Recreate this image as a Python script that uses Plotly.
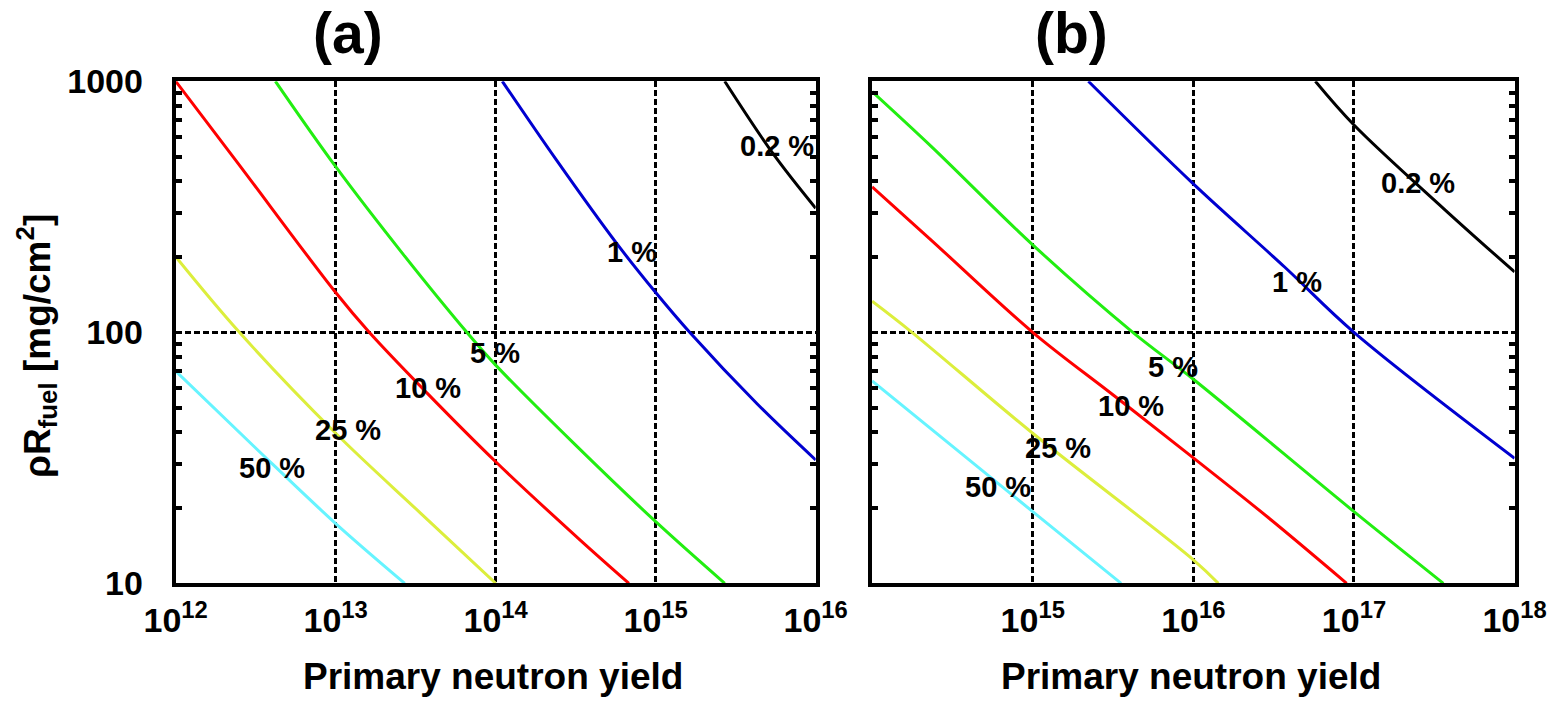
import numpy as np
import plotly.graph_objects as go

# ---------------- data ----------------
# Panel (a): primary neutron yield vs rhoR_fuel [mg/cm^2]
a_black_x = [2.7e15, 5.4e15, 1.0e16]
a_black_y = [1000, 516, 312]
a_blue_x = [1.1e14, 2.4e14, 5.7e14, 1.0e15, 1.63e15, 4.3e15, 1.0e16]
a_blue_y = [1000, 485, 226, 144, 100, 51.9, 31]
a_green_x = [4.2e12, 1.0e13, 2.65e13, 6.6e13, 1.0e14, 3.16e14, 1.0e15, 2.7e15]
a_green_y = [1000, 457, 204, 100, 74, 35.5, 17.6, 10]
a_red_x = [1.0e12, 2.4e12, 1.0e13, 1.62e13, 3.7e13, 1.0e14, 3.4e14, 6.8e14]
a_red_y = [1000, 480, 144, 100, 57.5, 30.5, 14.8, 10]
a_yellow_x = [1.0e12, 2.5e12, 1.0e13, 3.4e13, 1.0e14]
a_yellow_y = [200, 100, 39.6, 19, 10]
a_cyan_x = [1.0e12, 3.1e12, 1.0e13, 2.7e13]
a_cyan_y = [70, 35, 17.3, 10]

# Panel (b)
b_black_x = [5.75e16, 1.0e17, 3.7e17, 1.0e18]
b_black_y = [1000, 670, 307, 174]
b_blue_x = [2.22e15, 1.0e16, 3.7e16, 1.0e17, 1.0e18]
b_blue_y = [1000, 390, 182, 100, 31.5]
b_green_x = [1.0e14, 2.35e14, 1.0e15, 4.2e15, 1.0e16, 1.0e17, 3.6e17]
b_green_y = [910, 548, 223, 100, 65, 19.3, 10]
b_red_x = [1.0e14, 2.35e14, 1.0e15, 3.2e15, 1.0e16, 2.95e16, 9.0e16]
b_red_y = [380, 232, 100, 56, 31.6, 18.2, 10]
b_yellow_x = [1.0e14, 1.77e14, 1.0e15, 1.0e16, 1.43e16]
b_yellow_y = [133, 100, 39.6, 12.4, 10]
b_cyan_x = [1.0e14, 1.0e15, 3.55e15]
b_cyan_y = [64, 19.3, 10]

curve_labels = ["0.2 %", "1 %", "5 %", "10 %", "25 %", "50 %"]
a_label_x = [5.7e15, 7.1e14, 9.9e13, 3.8e13, 1.2e13, 4.0e12]
a_label_y = [550, 209, 83, 60, 40.8, 28.7]
b_label_x = [2.5e17, 4.4e16, 7.5e15, 4.1e15, 1.44e15, 6.1e14]
b_label_y = [393, 159, 73, 51, 34.5, 24.3]

a_xticks = [1e12, 1e13, 1e14, 1e15, 1e16]
a_xticktext = ["10<sup>12</sup>", "10<sup>13</sup>", "10<sup>14</sup>", "10<sup>15</sup>", "10<sup>16</sup>"]
b_xticks = [1e14, 1e15, 1e16, 1e17, 1e18]
b_xticktext = ["", "10<sup>15</sup>", "10<sup>16</sup>", "10<sup>17</sup>", "10<sup>18</sup>"]
yticks = [10, 100, 1000]
yticktext = ["10", "100", "1000"]
yminor = [20, 30, 40, 50, 60, 70, 80, 90, 200, 300, 400, 500, 600, 700, 800, 900]

colors = {"black": "#000000", "blue": "#0000d0", "green": "#22ee11",
          "red": "#ff0000", "yellow": "#dcee3c", "cyan": "#66f4ff"}

FONT = "Liberation Sans, Arial, sans-serif"

W, H = 1564, 701

def px_x(p):
    return p / W

def px_y(p):
    return 1 - p / H

fig = go.Figure()

def add_curve(x, y, col, xa, ya):
    fig.add_trace(go.Scatter(x=x, y=y, mode="lines", xaxis=xa, yaxis=ya,
                             line=dict(color=colors[col], width=3, shape="spline", smoothing=1.0),
                             showlegend=False, hoverinfo="skip"))

for col, (xx, yy) in {"black": (a_black_x, a_black_y), "blue": (a_blue_x, a_blue_y),
                      "green": (a_green_x, a_green_y), "red": (a_red_x, a_red_y),
                      "yellow": (a_yellow_x, a_yellow_y), "cyan": (a_cyan_x, a_cyan_y)}.items():
    add_curve(xx, yy, col, "x", "y")
for col, (xx, yy) in {"black": (b_black_x, b_black_y), "blue": (b_blue_x, b_blue_y),
                      "green": (b_green_x, b_green_y), "red": (b_red_x, b_red_y),
                      "yellow": (b_yellow_x, b_yellow_y), "cyan": (b_cyan_x, b_cyan_y)}.items():
    add_curve(xx, yy, col, "x2", "y2")

annotations = []
lab_font = dict(family=FONT, size=29, color="black", weight="bold")
for t, lx, ly in zip(curve_labels, a_label_x, a_label_y):
    annotations.append(dict(x=np.log10(lx), y=np.log10(ly), xref="x", yref="y", text=t,
                            xanchor="center", yanchor="middle", showarrow=False, font=lab_font))
for t, lx, ly in zip(curve_labels, b_label_x, b_label_y):
    annotations.append(dict(x=np.log10(lx), y=np.log10(ly), xref="x2", yref="y2", text=t,
                            xanchor="center", yanchor="middle", showarrow=False, font=lab_font))

big = dict(family=FONT, size=37, color="black", weight="bold")
title_font = dict(family=FONT, size=57, color="black", weight="bold")
for txt, cx, cy, fnt, ang in [
    ("(a)", 348, 33, title_font, 0),
    ("(b)", 1071, 33, title_font, 0),
    ("Primary neutron yield", 493, 676, big, 0),
    ("Primary neutron yield", 1191, 676, big, 0),
    ("ρR<sub>fuel</sub> [mg/cm<sup>2</sup>]", 37, 346, big, -90),
]:
    annotations.append(dict(x=px_x(cx), y=px_y(cy), xref="paper", yref="paper", text=txt,
                            xanchor="center", yanchor="middle", textangle=ang,
                            showarrow=False, font=fnt))

grid = dict(showgrid=True, gridcolor="black", gridwidth=3, griddash="6px,3px")
line = dict(showline=True, linecolor="black", linewidth=4, mirror="allticks")
tickfont = dict(family=FONT, size=34, color="black", weight="bold")

yax = dict(type="log", range=[1, 3], tickvals=yticks, ticks="", zeroline=False, automargin=False,
           minor=dict(tickvals=yminor, ticks="inside", ticklen=6, tickwidth=4, tickcolor="black",
                      showgrid=False),
           domain=[px_y(583.3), px_y(81.3)], **grid, **line)

fig.update_layout(
    width=W, height=H, margin=dict(l=0, r=0, t=0, b=0, autoexpand=False),
    paper_bgcolor="white", plot_bgcolor="white",
    xaxis=dict(type="log", range=[12, 16], tickvals=a_xticks, ticktext=a_xticktext, ticks="",
               domain=[px_x(175.7), px_x(815.7)], anchor="y", tickfont=tickfont, automargin=False,
               ticklabelstandoff=4, zeroline=False, **grid, **line),
    yaxis=dict(anchor="x", ticktext=yticktext, tickfont=tickfont, ticklabelstandoff=22, **yax),
    xaxis2=dict(type="log", range=[14, 18], tickvals=b_xticks, ticktext=b_xticktext, ticks="",
                domain=[px_x(872.1), px_x(1514.6)], anchor="y2", tickfont=tickfont, automargin=False,
                ticklabelstandoff=4, zeroline=False, **grid, **line),
    yaxis2=dict(anchor="x2", showticklabels=False, **yax),
    annotations=annotations,
)

fig.write_html("out.html")
